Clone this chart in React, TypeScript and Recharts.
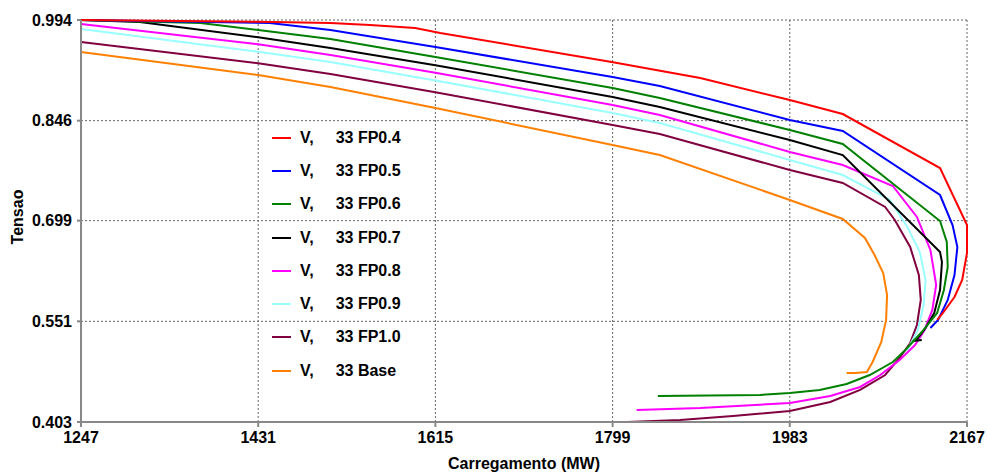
import React from 'react';
import { LineChart, Line, XAxis, YAxis, CartesianGrid } from 'recharts';

// load ticks
const mwTicks = [1247, 1431, 1615, 1799, 1983, 2167];
const vTicks = [0.403, 0.551, 0.699, 0.846, 0.994];

// [MW, V] pairs, in the order the curve is traced
const fp04: [number, number][] = [
  [1247, 0.994], [1431, 0.9915], [1506, 0.9896], [1547, 0.9866], [1594, 0.9822], [1620, 0.9749],
  [1798, 0.9323], [1890, 0.9087], [1983, 0.8764], [2038, 0.8558], [2139, 0.7764], [2167, 0.6926],
  [2167, 0.6515], [2162, 0.6118], [2154, 0.5868], [2142, 0.5633], [2136, 0.553],
];
const fp05: [number, number][] = [
  [1247, 0.994], [1443, 0.9896], [1506, 0.9793], [1615, 0.9543], [1799, 0.9102], [1848, 0.897],
  [1983, 0.847], [2038, 0.8308], [2139, 0.7367], [2152, 0.6926], [2157, 0.6603], [2154, 0.6191],
  [2147, 0.5824], [2137, 0.553], [2129, 0.5412],
];
const fp06: [number, number][] = [
  [1247, 0.994], [1371, 0.9896], [1431, 0.9793], [1506, 0.9661], [1615, 0.9396], [1799, 0.894],
  [1848, 0.8793], [1983, 0.8323], [2038, 0.8117], [2139, 0.6985], [2146, 0.6676], [2147, 0.6309],
  [2143, 0.5971], [2136, 0.5633], [2120, 0.5353], [2103, 0.5089], [2090, 0.4912], [2066, 0.4721],
  [2042, 0.4589], [2014, 0.4501], [1983, 0.4457], [1952, 0.4427], [1846, 0.4413],
];
const fp07: [number, number][] = [
  [1247, 0.994], [1308, 0.9911], [1431, 0.9686], [1506, 0.9528], [1615, 0.9276], [1799, 0.8808],
  [1848, 0.8661], [1983, 0.8176], [2038, 0.7955], [2139, 0.6529], [2141, 0.6382], [2139, 0.5971],
  [2133, 0.5633], [2124, 0.5412], [2116, 0.5265], [2111, 0.5221], [2120, 0.5236],
];
const fp08: [number, number][] = [
  [1247, 0.9881], [1431, 0.9583], [1506, 0.9425], [1615, 0.9165], [1799, 0.869], [1848, 0.8543],
  [1983, 0.8], [2038, 0.7808], [2090, 0.75], [2115, 0.7044], [2129, 0.6559], [2135, 0.6044],
  [2131, 0.5677], [2123, 0.5383], [2113, 0.5162], [2097, 0.4942], [2077, 0.4721], [2056, 0.4545],
  [2025, 0.4413], [1983, 0.431], [1890, 0.4236], [1824, 0.4207],
];
const fp09: [number, number][] = [
  [1247, 0.9808], [1431, 0.9474], [1506, 0.9323], [1615, 0.9052], [1799, 0.8573], [1848, 0.8426],
  [1983, 0.7882], [2038, 0.7661], [2087, 0.7294], [2105, 0.6897], [2118, 0.6529], [2124, 0.6118],
  [2122, 0.575], [2116, 0.5383], [2105, 0.5089],
];
const fp10: [number, number][] = [
  [1247, 0.9617], [1431, 0.9303], [1506, 0.9146], [1615, 0.8879], [1799, 0.8396], [1848, 0.8264],
  [1983, 0.7735], [2038, 0.7544], [2082, 0.7191], [2092, 0.7], [2108, 0.6603], [2117, 0.6191],
  [2119, 0.5824], [2115, 0.5456], [2108, 0.5192], [2097, 0.4971], [2082, 0.4721], [2056, 0.4501],
  [2025, 0.4324], [1983, 0.4192], [1924, 0.4118], [1869, 0.406], [1814, 0.403],
];
const base: [number, number][] = [
  [1247, 0.947], [1431, 0.9131], [1506, 0.8955], [1615, 0.8646], [1799, 0.8102], [1848, 0.7955],
  [1983, 0.7294], [2038, 0.7015], [2061, 0.6735], [2071, 0.6485], [2080, 0.6221], [2084, 0.5897],
  [2083, 0.553], [2078, 0.5206], [2069, 0.4912], [2063, 0.4765], [2051, 0.4751], [2042, 0.4751],
];

const series = [
  { name: '33 FP0.4', color: '#ff0000', points: fp04 },
  { name: '33 FP0.5', color: '#0000ff', points: fp05 },
  { name: '33 FP0.6', color: '#008000', points: fp06 },
  { name: '33 FP0.7', color: '#000000', points: fp07 },
  { name: '33 FP0.8', color: '#ff00ff', points: fp08 },
  { name: '33 FP0.9', color: '#99ffff', points: fp09 },
  { name: '33 FP1.0', color: '#800040', points: fp10 },
  { name: '33 Base', color: '#ff8000', points: base },
];

const FONT = '"Liberation Sans", Arial, sans-serif';
const tickStyle = { fill: '#000', fontSize: 16, fontWeight: 700, fontFamily: FONT };

// legend sits inside the plot, so it is laid over the chart instead of taking room from it
const LegendBox = () => (
  <div
    style={{
      position: 'absolute', left: 272, top: 121,
      fontFamily: FONT, fontSize: 16, fontWeight: 700, color: '#000',
    }}
  >
    {series.map(s => (
      <div key={s.name} style={{ height: 33.3, display: 'flex', alignItems: 'center' }}>
        <div style={{ width: 19, height: 2, background: s.color }} />
        <span style={{ marginLeft: 9 }}>V,</span>
        <span style={{ marginLeft: 22 }}>{s.name}</span>
      </div>
    ))}
  </div>
);

export default function App() {
  return (
    <div style={{ position: 'absolute', left: 0, top: 0, width: 987, height: 474, background: '#fff' }}>
      <LineChart width={987} height={474} margin={{ top: 20, right: 20, bottom: 0, left: 0 }}>
        <CartesianGrid stroke="#666" strokeDasharray="2 2" horizontalValues={vTicks} verticalValues={mwTicks} />
        <XAxis
          type="number"
          dataKey="mw"
          domain={[1247, 2167]}
          ticks={mwTicks}
          allowDuplicatedCategory={false}
          height={52}
          tick={tickStyle}
          tickSize={5}
          tickMargin={5}
          stroke="#888"
          strokeWidth={2}
          label={{
            content: () => (
              <text x={524} y={463} textAnchor="middle" dominantBaseline="central" style={tickStyle}>
                Carregamento (MW)
              </text>
            ),
          }}
        />
        <YAxis
          type="number"
          dataKey="v"
          domain={[0.403, 0.994]}
          ticks={vTicks}
          width={81}
          tick={tickStyle}
          tickSize={4}
          tickMargin={5}
          tickFormatter={(v: number) => v.toFixed(3)}
          stroke="#888"
          strokeWidth={2}
          label={{
            content: () => (
              <text
                x={17}
                y={217}
                transform="rotate(-90 17 217)"
                textAnchor="middle"
                dominantBaseline="central"
                style={tickStyle}
              >
                Tensao
              </text>
            ),
          }}
        />
        {[...series].reverse().map(s => (
          <Line
            key={s.name}
            data={s.points.map(([mw, v]) => ({ mw, v }))}
            dataKey="v"
            name={s.name}
            stroke={s.color}
            strokeWidth={2}
            dot={false}
            isAnimationActive={false}
            type="linear"
          />
        ))}
      </LineChart>
      <LegendBox />
    </div>
  );
}
